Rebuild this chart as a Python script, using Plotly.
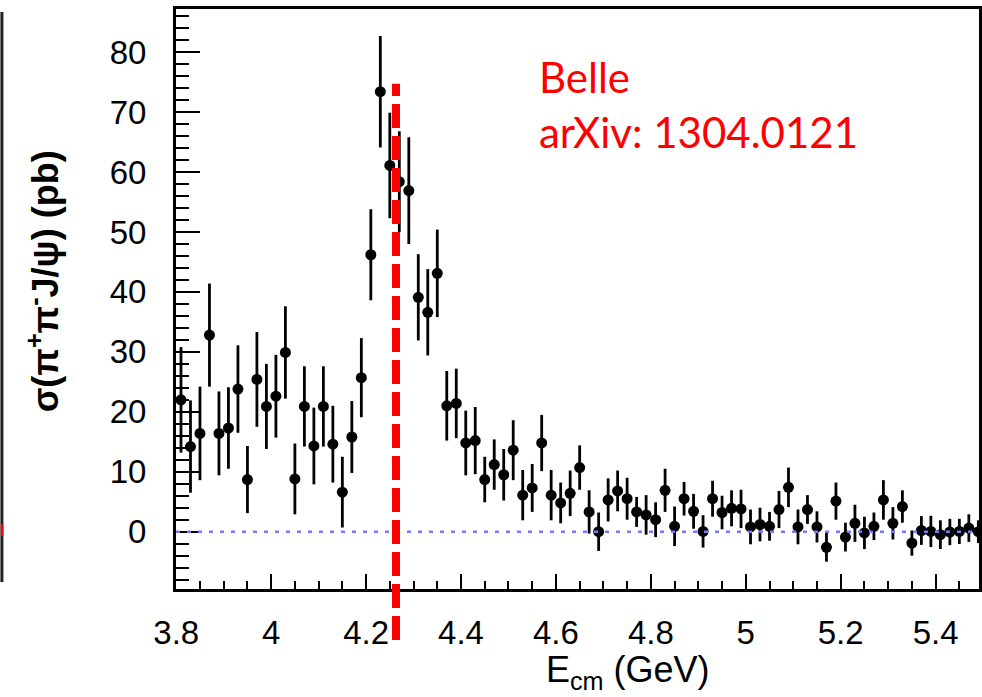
import plotly.graph_objects as go

# Bin centres (GeV)
energy = [3.81, 3.83, 3.85, 3.87, 3.89, 3.91, 3.93, 3.95, 3.97, 3.99,
          4.01, 4.03, 4.05, 4.07, 4.09, 4.11, 4.13, 4.15, 4.17, 4.19,
          4.21, 4.23, 4.25, 4.27, 4.29, 4.31, 4.33, 4.35, 4.37, 4.39,
          4.41, 4.43, 4.45, 4.47, 4.49, 4.51, 4.53, 4.55, 4.57, 4.59,
          4.61, 4.63, 4.65, 4.67, 4.69, 4.71, 4.73, 4.75, 4.77, 4.79,
          4.81, 4.83, 4.85, 4.87, 4.89, 4.91, 4.93, 4.95, 4.97, 4.99,
          5.01, 5.03, 5.05, 5.07, 5.09, 5.11, 5.13, 5.15, 5.17, 5.19,
          5.21, 5.23, 5.25, 5.27, 5.29, 5.31, 5.33, 5.35, 5.37, 5.39,
          5.41, 5.43, 5.45, 5.47, 5.49]

# Cross section (pb)
sigma = [22.0, 14.2, 16.4, 32.8, 16.4, 17.3, 23.8, 8.7, 25.4, 20.9,
         22.6, 29.9, 8.8, 20.9, 14.3, 20.9, 14.6, 6.6, 15.8, 25.7,
         46.2, 73.4, 61.1, 58.4, 56.9, 39.1, 36.6, 43.1, 21.0, 21.4,
         14.8, 15.2, 8.7, 11.2, 9.5, 13.6, 6.1, 7.3, 14.8, 6.1,
         4.8, 6.4, 10.7, 3.3, 0.0, 5.3, 6.8, 5.5, 3.3, 2.8,
         2.0, 6.9, 0.9, 5.5, 3.4, 0.05, 5.5, 3.2, 3.9, 3.8,
         0.8, 1.2, 0.9, 3.7, 7.4, 0.8, 3.7, 0.8, -2.6, 5.1,
         -0.9, 1.4, -0.2, 0.9, 5.3, 1.4, 4.2, -1.9, 0.2, 0.05,
         -0.5, -0.05, 0.05, 0.6, 0.0]

# Statistical errors (pb)
sigma_err = [8.8, 7.7, 7.8, 8.6, 7.0, 6.8, 7.3, 5.6, 7.9, 7.1,
             6.9, 7.7, 5.9, 6.7, 6.4, 6.7, 6.4, 5.9, 6.0, 6.6,
             7.6, 9.3, 8.8, 8.4, 8.9, 7.2, 7.2, 7.3, 5.8, 5.8,
             5.4, 5.6, 3.8, 4.2, 4.3, 5.0, 4.2, 4.0, 4.7, 4.2,
             3.4, 3.8, 3.7, 3.6, 3.2, 3.6, 3.4, 3.5, 2.5, 3.3,
             2.9, 3.6, 3.3, 2.8, 2.9, 2.7, 3.0, 2.8, 3.0, 3.2,
             2.9, 2.8, 2.4, 3.1, 3.3, 2.9, 2.4, 2.6, 2.4, 3.1,
             2.4, 3.1, 2.7, 2.3, 3.3, 2.7, 2.7, 2.1, 2.4, 2.6,
             2.4, 2.2, 2.1, 2.3, 1.9]

x_tickvals = [3.8, 4.0, 4.2, 4.4, 4.6, 4.8, 5.0, 5.2, 5.4]
x_ticktext = ["3.8", "4", "4.2", "4.4", "4.6", "4.8", "5", "5.2", "5.4"]
y_tickvals = [0, 10, 20, 30, 40, 50, 60, 70, 80]
y_ticktext = ["0", "10", "20", "30", "40", "50", "60", "70", "80"]

y4260_mass = 4.263   # red dashed marker
zero_level = 0.0     # blue dotted baseline

TICKFONT = dict(family="Liberation Sans, Arial, sans-serif", size=33, color="black")

fig = go.Figure()
fig.add_trace(go.Scatter(
    x=energy, y=sigma, mode="markers",
    marker=dict(symbol="circle", size=11, color="black"),
    error_y=dict(type="data", array=sigma_err, visible=True,
                 thickness=2.8, width=0, color="black"),
    showlegend=False, cliponaxis=True,
))

fig.update_layout(
    width=982, height=697, autosize=False,
    margin=dict(l=176, r=0, t=9, b=108),
    paper_bgcolor="white", plot_bgcolor="white",
    xaxis=dict(range=[3.7995, 5.4914], showgrid=False, zeroline=False,
               showline=True, linecolor="black", linewidth=3, mirror=True,
               tickmode="array", tickvals=x_tickvals, ticktext=x_ticktext,
               ticks="inside", ticklen=15, tickwidth=2, tickcolor="black",
               minor=dict(dtick=0.05, ticks="inside", ticklen=8, tickwidth=2,
                          tickcolor="black", showgrid=False),
               tickfont=TICKFONT, ticklabelstandoff=12),
    yaxis=dict(range=[-9.56, 87.2], showgrid=False, zeroline=False,
               showline=True, linecolor="black", linewidth=3, mirror=True,
               tickmode="array", tickvals=y_tickvals, ticktext=y_ticktext,
               ticks="inside", ticklen=24, tickwidth=2, tickcolor="black",
               minor=dict(dtick=2, ticks="inside", ticklen=13, tickwidth=2,
                          tickcolor="black", showgrid=False),
               tickfont=TICKFONT, ticklabelstandoff=20),
)

# blue dotted zero line (on top of points)
fig.add_shape(type="line", xref="paper", yref="y", x0=0, x1=1,
              y0=zero_level, y1=zero_level, layer="above",
              line=dict(color="rgb(120,120,255)", width=2.5, dash="4px,7px"))
# red dashed vertical line
fig.add_shape(type="line", xref="x", yref="paper", x0=y4260_mass, x1=y4260_mass,
              y0=-0.088, y1=0.871, layer="above",
              line=dict(color="rgb(255,0,0)", width=8, dash="24px,8px"))

# slide artefacts on the left edge
fig.add_shape(type="line", xref="paper", yref="paper", x0=-0.2168, x1=-0.2168,
              y0=0.995, y1=0.012, line=dict(color="#222222", width=3))
fig.add_shape(type="rect", xref="paper", yref="paper", x0=-0.2181, x1=-0.2150,
              y0=0.112, y1=0.092, line=dict(width=0), fillcolor="red")

# axis titles
fig.add_annotation(xref="paper", yref="paper", x=-0.166, y=0.53,
                   text="<b>σ(π<sup>+</sup>π<sup>-</sup>J/ψ) (pb)</b>", textangle=-90,
                   showarrow=False, xanchor="center", yanchor="middle",
                   font=dict(family="Liberation Sans, Arial, sans-serif", size=36, color="black"))
fig.add_annotation(xref="paper", yref="paper", x=0.563, y=-0.143,
                   text="E<sub>cm</sub> (GeV)",
                   showarrow=False, xanchor="center", yanchor="middle",
                   font=dict(family="Liberation Sans, Arial, sans-serif", size=36, color="black"))

# Belle label
fig.add_annotation(xref="paper", yref="paper", x=0.449, y=0.93,
                   text="Belle<br>arXiv: 1304.0121", align="left",
                   showarrow=False, xanchor="left", yanchor="top",
                   font=dict(family="Lato, sans-serif", size=42, color="rgb(255,0,0)"))

fig.write_html("out.html")
